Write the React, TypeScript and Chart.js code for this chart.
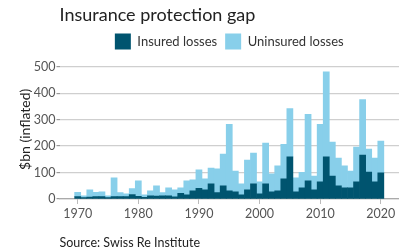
import React, { useEffect, useRef } from 'react';
import { Chart, registerables } from 'chart.js';
Chart.register(...registerables);

const years = [
  1970, 1971, 1972, 1973, 1974, 1975, 1976, 1977, 1978, 1979,
  1980, 1981, 1982, 1983, 1984, 1985, 1986, 1987, 1988, 1989,
  1990, 1991, 1992, 1993, 1994, 1995, 1996, 1997, 1998, 1999,
  2000, 2001, 2002, 2003, 2004, 2005, 2006, 2007, 2008, 2009,
  2010, 2011, 2012, 2013, 2014, 2015, 2016, 2017, 2018, 2019,
  2020,
];
const insured = [
  9, 5, 7, 9, 9, 5, 9, 9, 9, 17,
  10, 6, 12, 11, 12, 12, 8, 21, 16, 31,
  40, 35, 57, 24, 50, 31, 27, 16, 35, 57,
  20, 57, 27, 31, 76, 159, 27, 42, 69, 35,
  65, 159, 87, 50, 42, 42, 65, 166, 102, 65,
  99,
];
const uninsured = [
  16, 7, 28, 16, 18, 7, 71, 15, 11, 22,
  59, 10, 19, 39, 12, 30, 27, 21, 53, 41,
  70, 41, 60, 90, 120, 251, 79, 41, 112, 117,
  45, 154, 68, 94, 131, 183, 53, 59, 251, 52,
  217, 322, 128, 105, 83, 64, 131, 210, 87, 90,
  120,
];
const xTicks = [1970, 1980, 1990, 2000, 2010, 2020];
const yTicks = [0, 100, 200, 300, 400, 500];

const FONT = 'Lato, "Open Sans", sans-serif';

export default function App() {
  const ref = useRef<HTMLCanvasElement>(null);
  useEffect(() => {
    Chart.defaults.font.family = FONT;
    const chart = new Chart(ref.current as HTMLCanvasElement, {
      type: 'bar',
      data: {
        datasets: [
          {
            label: 'Insured losses',
            data: years.map((y, i) => ({ x: y, y: insured[i] })),
            backgroundColor: '#00546F',
            borderWidth: 0,
            barPercentage: 1,
            categoryPercentage: 1,
          },
          {
            label: 'Uninsured losses',
            data: years.map((y, i) => ({ x: y, y: uninsured[i] })),
            backgroundColor: '#88CFEA',
            borderWidth: 0,
            barPercentage: 1,
            categoryPercentage: 1,
          },
        ],
      },
      options: {
        responsive: false,
        animation: false,
        devicePixelRatio: 1,
        layout: { padding: 0 },
        scales: {
          x: {
            type: 'linear',
            stacked: true,
            min: 1967,
            max: 2023,
            offset: false,
            afterBuildTicks: (ax: any) => {
              ax.ticks = xTicks.map((v) => ({ value: v }));
            },
            afterFit: (ax: any) => {
              ax.height = 30;
            },
            grid: {
              display: true,
              drawOnChartArea: false,
              drawTicks: true,
              tickLength: 5,
              tickColor: '#bbbbbb',
              offset: false,
            },
            border: { display: true, color: '#aaaaaa', width: 1.2 },
            ticks: {
              color: '#555555',
              font: { size: 12.5 },
              padding: 2,
              maxRotation: 0,
              callback: (v: any) => String(v),
            },
          },
          y: {
            stacked: true,
            min: 0,
            max: 527,
            afterBuildTicks: (ax: any) => {
              ax.ticks = yTicks.map((v) => ({ value: v }));
            },
            afterFit: (ax: any) => {
              ax.width = 59.5;
            },
            grid: {
              color: '#cfcfcf',
              lineWidth: 1.2,
              tickLength: 3,
              tickColor: '#999999',
            },
            border: { display: false },
            ticks: {
              color: '#555555',
              font: { size: 12.5 },
              padding: 1,
              callback: (v: any) => String(v),
            },
            title: {
              display: true,
              text: '$bn (inflated)',
              color: '#222222',
              font: { size: 14 },
              padding: { top: 17, bottom: 0 },
            },
          },
        },
        plugins: {
          title: {
            display: true,
            text: 'Insurance protection gap',
            align: 'start',
            fullSize: false,
            color: '#222222',
            font: { size: 18, weight: 'normal' },
            padding: { top: 4, bottom: 0 },
          },
          subtitle: {
            display: true,
            position: 'bottom',
            text: 'Source: Swiss Re Institute',
            align: 'start',
            fullSize: false,
            color: '#222222',
            font: { size: 12.5, weight: 'normal' },
            padding: { top: 6, bottom: 2 },
          },
          legend: {
            display: true,
            position: 'top',
            align: 'center',
            fullSize: false,
            labels: {
              boxWidth: 16,
              boxHeight: 16,
              padding: 8,
              color: '#333333',
              font: { size: 13 },
            },
          },
          tooltip: { enabled: false },
        },
      } as any,
    });
    return () => chart.destroy();
  }, []);
  return (
    <div style={{ position: 'absolute', left: 0, top: 0, width: 399, height: 252 }}>
      <canvas ref={ref} width={399} height={252} style={{ width: 399, height: 252, display: 'block' }} />
    </div>
  );
}
